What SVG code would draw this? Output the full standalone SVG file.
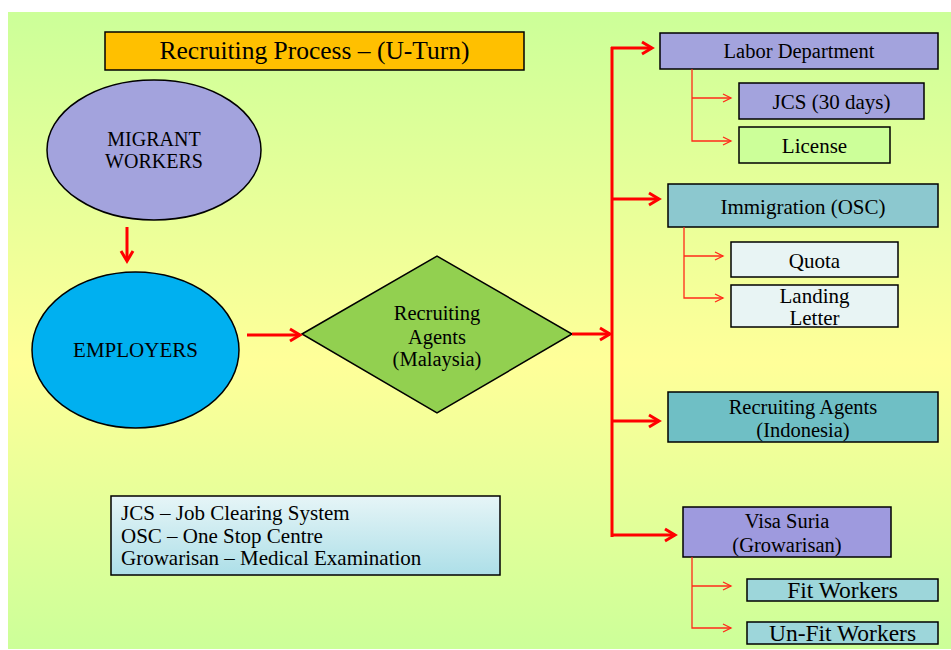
<svg xmlns="http://www.w3.org/2000/svg" width="951" height="650" viewBox="0 0 951 650">
<defs>
<linearGradient id="bg" x1="0" y1="0" x2="0" y2="1">
<stop offset="0" stop-color="#ccff99"/>
<stop offset="0.55" stop-color="#ffff99"/>
<stop offset="1" stop-color="#ccff99"/>
</linearGradient>
<linearGradient id="leg" x1="0" y1="0" x2="0" y2="1">
<stop offset="0" stop-color="#e6f5f7"/>
<stop offset="1" stop-color="#addfe8"/>
</linearGradient>
<marker id="bigHead" markerUnits="userSpaceOnUse" markerWidth="16" markerHeight="16" viewBox="-12 -8 16 16" refX="0" refY="0" orient="auto">
<path d="M-10,-6 L0,0 L-10,6" fill="none" stroke="#ff0000" stroke-width="3"/>
</marker>
<marker id="smallHead" markerUnits="userSpaceOnUse" markerWidth="14" markerHeight="12" viewBox="-10 -6 12 12" refX="0" refY="0" orient="auto">
<path d="M-8,-4 L0,0 L-8,4" fill="none" stroke="#ff2a1a" stroke-width="1.3"/>
</marker>
</defs>
<style>
.t{font-family:"Liberation Serif","Times New Roman",serif;fill:#000;text-anchor:middle}
.l{text-anchor:start}
.box{stroke:#000;stroke-width:1.5}
.main{fill:none;stroke:#ff0000;stroke-width:3}
.sub{fill:none;stroke:#ff2a1a;stroke-width:1.3}
</style>
<rect x="0" y="0" width="951" height="650" fill="#ffffff"/>
<rect x="8" y="12" width="943" height="637" fill="url(#bg)"/>

<g id="title">
<rect class="box" x="105" y="32" width="419" height="38" fill="#ffc000"/>
<text class="t" x="314.5" y="59" font-size="25.5">Recruiting Process – (U-Turn)</text>
</g>

<g id="migrant">
<ellipse class="box" cx="154" cy="150" rx="107" ry="70" fill="#a3a3dd"/>
<text class="t" x="154" y="146" font-size="20">MIGRANT</text>
<text class="t" x="154" y="168" font-size="20">WORKERS</text>
</g>

<g id="employers">
<ellipse class="box" cx="135.5" cy="350" rx="103.5" ry="78" fill="#00b0f0"/>
<text class="t" x="135.5" y="357" font-size="21">EMPLOYERS</text>
</g>

<g id="agents-my">
<polygon class="box" points="302,334 437,256 572,334 437,413" fill="#92d050" stroke-width="1.2"/>
<text class="t" x="437" y="320" font-size="20.5">Recruiting</text>
<text class="t" x="437" y="344" font-size="20.5">Agents</text>
<text class="t" x="437" y="366" font-size="20.5">(Malaysia)</text>
</g>

<g id="labor">
<rect class="box" x="660" y="33" width="278" height="36" fill="#a3a3dd"/>
<text class="t" x="799" y="58" font-size="20.5">Labor Department</text>
</g>
<g id="jcs">
<rect class="box" x="739" y="83" width="185" height="36" fill="#a3a3dd"/>
<text class="t" x="831.5" y="109" font-size="21">JCS (30 days)</text>
</g>
<g id="license">
<rect class="box" x="739" y="127" width="151" height="36" fill="#ccff99"/>
<text class="t" x="814.5" y="153" font-size="21">License</text>
</g>

<g id="immigration">
<rect class="box" x="668" y="184" width="270" height="43" fill="#8cc8cf"/>
<text class="t" x="803" y="214" font-size="21">Immigration (OSC)</text>
</g>
<g id="quota">
<rect class="box" x="731" y="242" width="167" height="35" fill="#e8f4f4"/>
<text class="t" x="814.5" y="268" font-size="21">Quota</text>
</g>
<g id="landing">
<rect class="box" x="731" y="285" width="167" height="42" fill="#e8f4f4"/>
<text class="t" x="814.5" y="303" font-size="21">Landing</text>
<text class="t" x="814.5" y="325" font-size="21">Letter</text>
</g>

<g id="agents-id">
<rect class="box" x="668" y="392" width="270" height="50" fill="#6fbfc5"/>
<text class="t" x="803" y="414" font-size="20.5">Recruiting Agents</text>
<text class="t" x="803" y="437" font-size="20.5">(Indonesia)</text>
</g>

<g id="visa">
<rect class="box" x="683" y="507" width="208" height="50" fill="#9e9ade"/>
<text class="t" x="787" y="528" font-size="20.5">Visa Suria</text>
<text class="t" x="787" y="552" font-size="20.5">(Growarisan)</text>
</g>
<g id="fit">
<rect class="box" x="747" y="579" width="191" height="22" fill="#9dd6da"/>
<text class="t" x="842.5" y="598" font-size="23.5">Fit Workers</text>
</g>
<g id="unfit">
<rect class="box" x="747" y="622" width="191" height="22" fill="#9dd6da"/>
<text class="t" x="842.5" y="641" font-size="23.5">Un-Fit Workers</text>
</g>

<g id="legend">
<rect class="box" x="111" y="496" width="389" height="79" fill="url(#leg)"/>
<text class="t l" x="121" y="520" font-size="21">JCS – Job Clearing System</text>
<text class="t l" x="121" y="543" font-size="21">OSC – One Stop Centre</text>
<text class="t l" x="121" y="565" font-size="21">Growarisan – Medical Examination</text>
</g>

<g id="connectors">
<path class="main" d="M127,227 V261" marker-end="url(#bigHead)"/>
<path class="main" d="M247,335 H300" marker-end="url(#bigHead)"/>
<path class="main" d="M572,334 H610" marker-end="url(#bigHead)"/>
<path class="main" d="M612,47 V537"/>
<path class="main" d="M611,48 H652" marker-end="url(#bigHead)"/>
<path class="main" d="M611,199 H659" marker-end="url(#bigHead)"/>
<path class="main" d="M611,421 H659" marker-end="url(#bigHead)"/>
<path class="main" d="M611,535 H675" marker-end="url(#bigHead)"/>
<path class="sub" d="M692,69 V141 H731" marker-end="url(#smallHead)"/>
<path class="sub" d="M692,98 H731" marker-end="url(#smallHead)"/>
<path class="sub" d="M684,227 V298 H723" marker-end="url(#smallHead)"/>
<path class="sub" d="M684,256 H723" marker-end="url(#smallHead)"/>
<path class="sub" d="M692,557 V628 H731" marker-end="url(#smallHead)"/>
<path class="sub" d="M692,586 H731" marker-end="url(#smallHead)"/>
</g>
</svg>
